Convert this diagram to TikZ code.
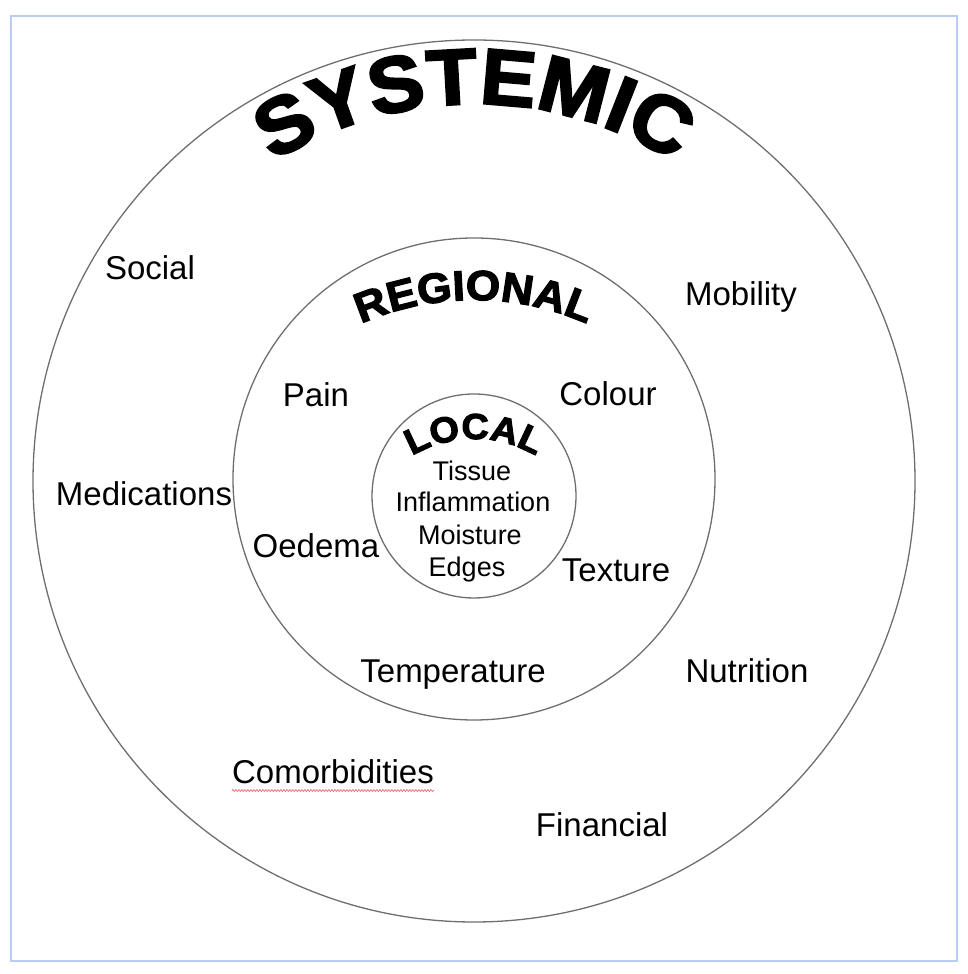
\documentclass[tikz,border=0pt]{standalone}
\usepackage{fontspec}
\setmainfont{Liberation Sans}
\newfontfamily\wordart{Liberation Sans}[BoldFeatures={FakeBold=3, FakeStretch=1.05}]
\usetikzlibrary{calc,decorations.text,decorations.pathmorphing}
\definecolor{frameblue}{RGB}{185,205,240}
\definecolor{ringgray}{RGB}{110,110,110}
\definecolor{squiggle}{RGB}{230,110,110}
\begin{document}
\begin{tikzpicture}[x=1pt,y=1pt,
  ring/.style={draw=ringgray, line width=1.3pt},
  lbl/.style={font=\fontsize{33}{33}\selectfont, anchor=base, inner sep=0pt},
  innerlbl/.style={font=\fontsize{27}{27}\selectfont, anchor=base, inner sep=0pt}]
\useasboundingbox (0,0) rectangle (968,974);
\draw[frameblue, line width=1.5pt] (11,13) rectangle (957,958);

\coordinate (O) at (474,493);
\coordinate (R) at (474,495);
\coordinate (L) at (474,478);
\coordinate (Rarc) at (474,394);
\coordinate (Larc) at (474,413);

\draw[ring] (O) circle[radius=441pt];
\draw[ring] (R) circle[radius=241pt];
\draw[ring] (L) circle[radius=102pt];

% arched titles
\path[decorate, decoration={text along path, text align=center,
  text={|\wordart\bfseries\fontsize{79}{79}\selectfont|SYSTEMIC}}]
  ($(O)+(150:377pt)$) arc[start angle=150, end angle=30, radius=377pt];
\path[decorate, decoration={text along path, text align=center,
  text={|\wordart\bfseries\fontsize{42}{42}\selectfont|REGIONAL}}]
  ($(Rarc)+(140:280pt)$) arc[start angle=140, end angle=40, radius=280pt];
\path[decorate, decoration={text along path, text align=center,
  text={|\wordart\bfseries\fontsize{36}{36}\selectfont|LOCAL}}]
  ($(Larc)+(160:122pt)$) arc[start angle=160, end angle=20, radius=122pt];

% local contents
\node[innerlbl] (tissue) at (472,493) {Tissue};
\node[innerlbl] (inflam) at (473,462) {Inflammation};
\node[innerlbl] (moist) at (470,429) {Moisture};
\node[innerlbl] (edges) at (467,397) {Edges};

% regional labels
\node[lbl] (pain) at (316,567) {Pain};
\node[lbl] (colour) at (608,568) {Colour};
\node[lbl] (oedema) at (316,416) {Oedema};
\node[lbl] (texture) at (616,392) {Texture};
\node[lbl] (temp) at (453,291) {Temperature};

% systemic labels
\node[lbl] (social) at (150,694) {Social};
\node[lbl] (mobility) at (741,668) {Mobility};
\node[lbl] (medic) at (144,468) {Medications};
\node[lbl] (nutr) at (747,291) {Nutrition};
\node[lbl] (comorb) at (333,190) {Comorbidities};
\node[lbl] (fin) at (602,137) {Financial};

\draw[squiggle, line width=0.7pt, decorate,
  decoration={snake, amplitude=1pt, segment length=3pt}]
  ([yshift=-6pt]comorb.south west) -- ([yshift=-6pt]comorb.south east);
\end{tikzpicture}
\end{document}
